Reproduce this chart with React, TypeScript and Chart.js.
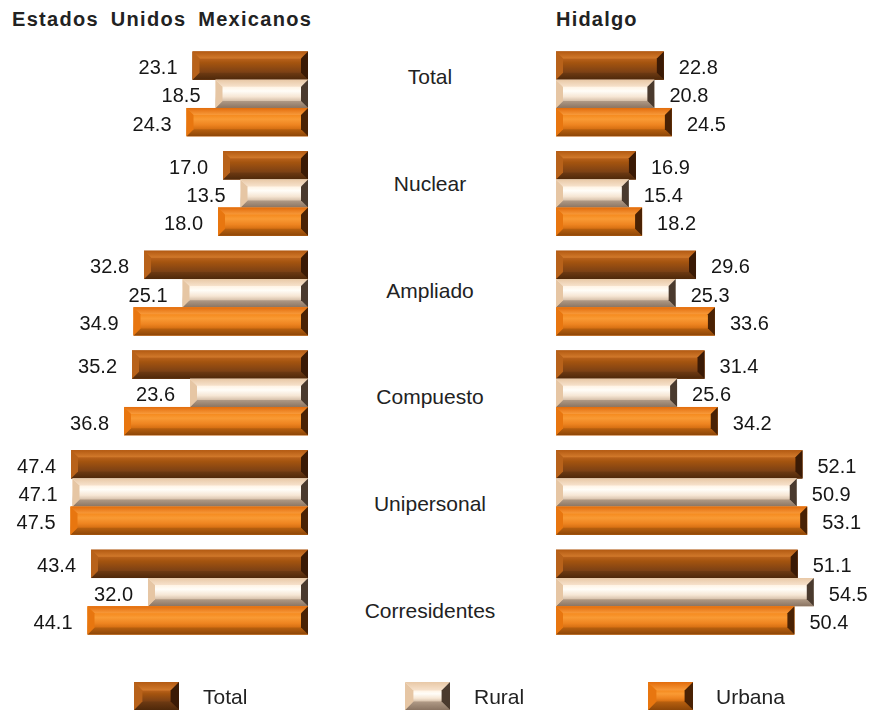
import React, { useEffect, useRef } from "react";
import { Chart, registerables } from "chart.js";

Chart.register(...registerables);

const categories = ["Total", "Nuclear", "Ampliado", "Compuesto", "Unipersonal", "Corresidentes"];
const seriesNames = ["Total", "Rural", "Urbana"];
const mexTotal = [23.1, 17.0, 32.8, 35.2, 47.4, 43.4];
const mexRural = [18.5, 13.5, 25.1, 23.6, 47.1, 32.0];
const mexUrbana = [24.3, 18.0, 34.9, 36.8, 47.5, 44.1];
const hgoTotal = [22.8, 16.9, 29.6, 31.4, 52.1, 51.1];
const hgoRural = [20.8, 15.4, 25.3, 25.6, 50.9, 54.5];
const hgoUrbana = [24.5, 18.2, 33.6, 34.2, 53.1, 50.4];
const leftTitle = "Estados Unidos Mexicanos";
const rightTitle = "Hidalgo";

type Bevel = {
  base: string;
  top: [string, string];
  bottom: [string, string];
  left: string;
  right: string;
  center: [string, string, string, string];
};

const bevels: Bevel[] = [
  {
    base: "#a2500f",
    top: ["#b35a12", "#d27a2c"],
    bottom: ["#6e3a12", "#4e280a"],
    left: "#b8621a",
    right: "#3a1a05",
    center: ["#b9621c", "#a4540f", "#8c4812", "#7a4015"],
  },
  {
    base: "#f8e6d2",
    top: ["#e8c8a6", "#f7e2cc"],
    bottom: ["#b09a86", "#8a7462"],
    left: "#e6c6a4",
    right: "#4a3a2e",
    center: ["#fff3e4", "#fffdf8", "#f6e6d4", "#d6c0aa"],
  },
  {
    base: "#ee7a12",
    top: ["#e26c0c", "#f89a3a"],
    bottom: ["#b8600f", "#8c4608"],
    left: "#e8760f",
    right: "#4a2204",
    center: ["#f58a1e", "#f99a34", "#ee8420", "#d46e12"],
  },
];

function drawBevel(ctx: CanvasRenderingContext2D, l: number, t: number, w: number, h: number, b: Bevel, depth: number) {
  if (w <= 0 || h <= 0) return;
  const r = l + w;
  const btm = t + h;
  const d = Math.min(depth, h * 0.3, w / 2);
  ctx.save();
  const g = ctx.createLinearGradient(0, t + d, 0, btm - d);
  g.addColorStop(0, b.center[0]);
  g.addColorStop(0.3, b.center[1]);
  g.addColorStop(0.7, b.center[2]);
  g.addColorStop(1, b.center[3]);
  ctx.fillStyle = g;
  ctx.fillRect(l, t, w, h);
  const poly = (pts: number[][], fill: string | CanvasGradient) => {
    ctx.beginPath();
    ctx.moveTo(pts[0][0], pts[0][1]);
    for (let i = 1; i < pts.length; i++) ctx.lineTo(pts[i][0], pts[i][1]);
    ctx.closePath();
    ctx.fillStyle = fill;
    ctx.fill();
  };
  const gt = ctx.createLinearGradient(0, t, 0, t + d);
  gt.addColorStop(0, b.top[0]);
  gt.addColorStop(1, b.top[1]);
  poly([[l, t], [r, t], [r - d, t + d], [l + d, t + d]], gt);
  const gb = ctx.createLinearGradient(0, btm - d, 0, btm);
  gb.addColorStop(0, b.bottom[0]);
  gb.addColorStop(1, b.bottom[1]);
  poly([[l, btm], [r, btm], [r - d, btm - d], [l + d, btm - d]], gb);
  poly([[l, t], [l + d, t + d], [l + d, btm - d], [l, btm]], b.left);
  poly([[r, t], [r - d, t + d], [r - d, btm - d], [r, btm]], b.right);
  ctx.restore();
}

const LABEL_FONT = '20px "Liberation Sans", Arial, sans-serif';
const TEXT_FONT = '"Liberation Sans", Arial, sans-serif';

function makeBevelPlugin(side: "left" | "right") {
  return {
    id: "bevelBars" + side,
    afterDatasetsDraw(chart: any) {
      const ctx: CanvasRenderingContext2D = chart.ctx;
      chart.data.datasets.forEach((ds: any, i: number) => {
        const meta = chart.getDatasetMeta(i);
        meta.data.forEach((el: any, j: number) => {
          const { x, y, base, height } = el.getProps(["x", "y", "base", "height"], true);
          const l = Math.min(x, base);
          const w = Math.abs(x - base);
          drawBevel(ctx, l, y - height / 2, w, height, bevels[i], 7);
          const v = ds.data[j] as number;
          ctx.save();
          ctx.font = LABEL_FONT;
          ctx.fillStyle = "#161616";
          ctx.textBaseline = "middle";
          if (side === "left") {
            ctx.textAlign = "right";
            ctx.fillText(v.toFixed(1), x - 15, y + 3);
          } else {
            ctx.textAlign = "left";
            ctx.fillText(v.toFixed(1), x + 15, y + 3);
          }
          ctx.restore();
        });
      });
    },
  };
}

function buildConfig(values: number[][], side: "left" | "right", padL: number, padR: number, max: number): any {
  return {
    type: "bar",
    data: {
      labels: categories,
      datasets: values.map((vals, i) => ({
        label: seriesNames[i],
        data: vals,
        backgroundColor: bevels[i].base,
        borderWidth: 0,
        categoryPercentage: 0.85,
        barPercentage: 1.0,
      })),
    },
    options: {
      indexAxis: "y",
      responsive: false,
      maintainAspectRatio: false,
      animation: false,
      layout: { padding: { left: padL, right: padR, top: 44, bottom: 69 } },
      scales: {
        x: { display: false, min: 0, max, reverse: side === "left", grid: { display: false } },
        y: { display: false, grid: { display: false } },
      },
      plugins: { legend: { display: false }, tooltip: { enabled: false } },
    },
    plugins: [makeBevelPlugin(side)],
  };
}

function LegendBox({ idx }: { idx: number }) {
  const ref = useRef<HTMLCanvasElement | null>(null);
  useEffect(() => {
    const c = ref.current;
    if (!c) return;
    const ctx = c.getContext("2d");
    if (!ctx) return;
    ctx.clearRect(0, 0, c.width, c.height);
    drawBevel(ctx, 0, 0, c.width, c.height, bevels[idx], 9);
  }, [idx]);
  return <canvas ref={ref} width={45} height={28} style={{ display: "block" }} />;
}

const legendPos = [
  { box: 134, text: 203 },
  { box: 405, text: 474 },
  { box: 648, text: 716 },
];

const catY = [77, 184, 291, 397, 504, 611];

export default function App() {
  const leftRef = useRef<HTMLCanvasElement | null>(null);
  const rightRef = useRef<HTMLCanvasElement | null>(null);

  useEffect(() => {
    const charts: Chart[] = [];
    if (leftRef.current) {
      charts.push(new Chart(leftRef.current, buildConfig([mexTotal, mexRural, mexUrbana], "left", 8, 12, 60)));
    }
    if (rightRef.current) {
      charts.push(new Chart(rightRef.current, buildConfig([hgoTotal, hgoRural, hgoUrbana], "right", 16, 33.2, 60)));
    }
    return () => charts.forEach((c) => c.destroy());
  }, []);

  return (
    <div
      style={{
        position: "fixed",
        left: 0,
        top: 0,
        width: 873,
        height: 711,
        background: "#ffffff",
        overflow: "hidden",
        fontFamily: TEXT_FONT,
        color: "#222",
      }}
    >
      <div
        style={{
          position: "absolute",
          left: 12,
          top: 7,
          lineHeight: "24px",
          fontSize: 20,
          fontWeight: "bold",
          letterSpacing: "1.3px",
          wordSpacing: "5px",
          whiteSpace: "nowrap",
          color: "#222",
        }}
      >
        {leftTitle}
      </div>
      <div
        style={{
          position: "absolute",
          left: 556,
          top: 7,
          lineHeight: "24px",
          fontSize: 20,
          fontWeight: "bold",
          letterSpacing: "1.2px",
          whiteSpace: "nowrap",
          color: "#222",
        }}
      >
        {rightTitle}
      </div>
      <canvas
        ref={leftRef}
        width={320}
        height={711}
        style={{ position: "absolute", left: 0, top: 0, width: 320, height: 711 }}
      />
      <canvas
        ref={rightRef}
        width={333}
        height={711}
        style={{ position: "absolute", left: 540, top: 0, width: 333, height: 711 }}
      />
      {categories.map((c, i) => (
        <div
          key={c}
          style={{
            position: "absolute",
            left: 330,
            width: 200,
            top: catY[i] - 12,
            lineHeight: "24px",
            fontSize: 21,
            textAlign: "center",
            whiteSpace: "nowrap",
            color: "#222",
          }}
        >
          {c}
        </div>
      ))}
      {seriesNames.map((s, i) => (
        <React.Fragment key={s}>
          <div style={{ position: "absolute", left: legendPos[i].box, top: 682 }}>
            <LegendBox idx={i} />
          </div>
          <div
            style={{
              position: "absolute",
              left: legendPos[i].text,
              top: 685,
              lineHeight: "24px",
              fontSize: 21,
              whiteSpace: "nowrap",
              color: "#222",
            }}
          >
            {s}
          </div>
        </React.Fragment>
      ))}
    </div>
  );
}
